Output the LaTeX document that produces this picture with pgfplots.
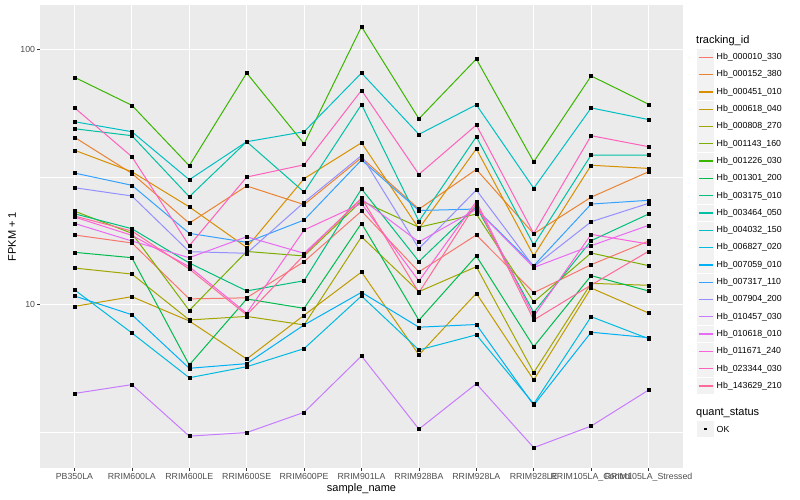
\documentclass[border=0pt]{standalone}
\usepackage{pgfplots}
\pgfplotsset{compat=1.18}
\usepackage{pgfplotstable}
\usepackage{fontspec}
\setmainfont{Liberation Sans}

\definecolor{panel}{HTML}{EBEBEB}
\definecolor{keybg}{HTML}{F2F2F2}
\definecolor{grey30}{HTML}{4D4D4D}
\definecolor{grey20}{HTML}{333333}
\definecolor{c1}{HTML}{F8766D}
\definecolor{c2}{HTML}{EA8331}
\definecolor{c3}{HTML}{D89000}
\definecolor{c4}{HTML}{C09B00}
\definecolor{c5}{HTML}{A3A500}
\definecolor{c6}{HTML}{7CAE00}
\definecolor{c7}{HTML}{39B600}
\definecolor{c8}{HTML}{00BB4E}
\definecolor{c9}{HTML}{00BF7D}
\definecolor{c10}{HTML}{00C1A3}
\definecolor{c11}{HTML}{00BFC4}
\definecolor{c12}{HTML}{00BAE0}
\definecolor{c13}{HTML}{00B0F6}
\definecolor{c14}{HTML}{35A2FF}
\definecolor{c15}{HTML}{9590FF}
\definecolor{c16}{HTML}{C77CFF}
\definecolor{c17}{HTML}{E76BF3}
\definecolor{c18}{HTML}{FA62DB}
\definecolor{c19}{HTML}{FF62BC}
\definecolor{c20}{HTML}{FF6A98}

% FPKM + 1 per sample (rows) and tracking_id (columns s1..s20)
\pgfplotstableread{
x  s1   s2   s3   s4    s5    s6    s7    s8    s9    s10   s11  s12   s13   s14   s15   s16  s17   s18   s19   s20
0  18.7 45.2 40.2 9.81  13.87 23.2  77.7  15.99 22.65 48.8  52.0 11.40 10.78 32.71 28.65 4.47 20.76 21.99 59.0  22.19
1  17.4 32.6 33.1 10.71 13.14 18.98 60.3  15.23 19.79 45.83 47.5 7.72  9.10  29.28 26.59 4.84 17.71 18.64 37.91 19.38
2  10.5 20.8 24.1 8.60  8.68  9.46  34.95 5.78  14.52 26.42 30.8 5.15  5.61  18.98 16.08 3.04 15.23 14.04 16.97 13.75
3  10.6 29.1 16.7 6.10  8.96  16.11 80.7  10.49 11.28 43.41 43.4 5.69  5.85  17.50 15.85 3.14 18.40 9.22  31.55 9.08
4  14.7 24.6 31.1 9.06  8.30  15.47 42.6  9.64  12.37 27.55 47.5 6.70  8.30  21.40 25.11 3.77 15.85 19.56 35.24 15.61
5  23.2 37.6 43.0 13.38 18.39 25.41 122.6 20.78 28.36 60.74 80.7 10.78 11.14 36.80 38.33 6.27 25.86 24.83 69.05 26.11
6  13.4 23.6 19.8 6.33  11.21 20.04 53.4  8.66  14.72 21.17 46.4 6.62  8.13  23.32 16.54 3.24 17.55 12.34 32.32 11.12
7  18.7 33.8 40.7 11.04 14.04 22.59 91.6  15.47 24.18 45.37 60.6 7.59  8.33  23.63 28.06 4.88 23.58 25.29 50.48 24.83
8  11.1 18.9 15.5 5.05  5.40  10.21 36.2  6.82  9.29  17.08 28.5 4.07  4.02  14.17 14.04 2.74 13.94 8.97  18.94 8.68
9  14.3 26.3 35.1 11.58 12.08 15.89 78.6  12.95 17.76 38.5  58.9 8.94  7.77  24.72 21.07 3.33 16.97 18.80 45.83 11.90
10 17.7 33.1 34.1 9.24  11.87 14.17 60.9  11.28 22.59 38.5  53.0 7.33  7.40  25.57 24.88 4.61 20.40 17.23 41.49 16.14
}\fpkm

\begin{document}
\begin{tikzpicture}[x=1bp,y=1bp]
\path[use as bounding box] (0,0) rectangle (800,500);
\begin{axis}[
    at={(40bp,32bp)}, anchor=south west,
    width=643bp, height=463bp, scale only axis,
    xmin=-0.6, xmax=10.6,
    ymode=log, ymin=2.28, ymax=149.2,
    xtick={0,...,10},
    xticklabels={PB350LA,RRIM600LA,RRIM600LE,RRIM600SE,RRIM600PE,RRIM901LA,RRIM928BA,RRIM928LA,RRIM928LE,RRIM105LA\_Control,RRIM105LA\_Stressed},
    ytick={10,100}, yticklabels={10,100},
    minor ytick={3.1623,31.623},
    grid=both,
    major grid style={white, line width=1.07bp},
    minor grid style={white, line width=0.53bp},
    axis background/.style={fill=panel},
    axis line style={draw=none},
    tick align=outside, tick pos=left,
    major tick length=2.75bp, minor tick length=0pt,
    tick style={grey20, line width=0.5bp},
    ticklabel style={font=\fontsize{8.8bp}{10bp}\selectfont, text=grey30},
    xticklabel style={inner sep=2.6bp},
    yticklabel style={inner sep=2bp},
]
\pgfplotsinvokeforeach{1,...,20}{
    \addplot[color=c#1, line width=1bp] table[x=x, y=s#1] {\fpkm};
}
\pgfplotsinvokeforeach{1,...,20}{
    \addplot[only marks, mark=square*, mark size=1.5bp, black] table[x=x, y=s#1] {\fpkm};
}
\end{axis}

% axis titles
\node[font=\fontsize{11bp}{13bp}\selectfont, rotate=90] at (12,263.5) {FPKM + 1};
\node[font=\fontsize{11bp}{13bp}\selectfont] at (361.5,11.3) {sample\_name};

% legend
\node[anchor=west, inner sep=0, font=\fontsize{11bp}{13bp}\selectfont] at (696,459.3) {tracking\_id};
\foreach \i/\lab [count=\k from 0] in {1/000010\_330,2/000152\_380,3/000451\_010,4/000618\_040,5/000808\_270,6/001143\_160,7/001226\_030,8/001301\_200,9/003175\_010,10/003464\_050,11/004032\_150,12/006827\_020,13/007059\_010,14/007317\_110,15/007904\_200,16/010457\_030,17/010618\_010,18/011671\_240,19/023344\_030,20/143629\_210}{
    \pgfmathsetmacro\yc{500-57.3-\k*17.3}
    \fill[keybg] (697,\yc-8.4) rectangle (714.3,\yc+8.4);
    \edef\keyline{\noexpand\draw[color=c\i, line width=1.3bp] (698.5,\yc) -- (712.8,\yc);}
    \keyline
    \node[anchor=west, inner sep=0, font=\fontsize{8.8bp}{10bp}\selectfont] at (716.5,\yc) {Hb\_\lab};
}
\node[anchor=west, inner sep=0, font=\fontsize{11bp}{13bp}\selectfont] at (696,87.3) {quant\_status};
\fill[keybg] (697,71-8.4) rectangle (714.3,71+8.4);
\fill[black] (704.15,69.6) rectangle (707.15,72.4);
\node[anchor=west, inner sep=0, font=\fontsize{8.8bp}{10bp}\selectfont] at (716.5,71) {OK};
\end{tikzpicture}
\end{document}
